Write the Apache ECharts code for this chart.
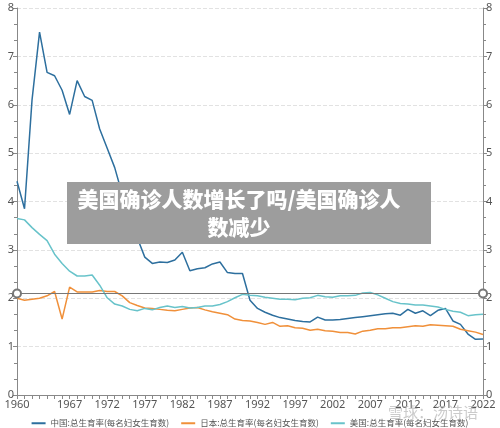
<!DOCTYPE html>
<html>
<head>
<meta charset="utf-8">
<script src="https://cdn.jsdelivr.net/npm/echarts@6/dist/echarts.min.js"></script>
<style>
html, body { margin: 0; padding: 0; background: #fff; }
#chart { width: 500px; height: 428px; }
</style>
</head>
<body>
<div id="chart"></div>
<script>
const years = []
for (let y = 1960; y <= 2022; y++) years.push(String(y))

const labelYears = ['1960', '1967', '1972', '1977', '1982', '1987', '1992', '1997', '2002', '2007', '2012', '2017', '2022']

const chinaTfr = [
    4.42, 3.85, 6.1, 7.5, 6.67, 6.6, 6.3, 5.8, 6.5, 6.17,
    6.09, 5.5, 5.1, 4.7, 4.15, 3.57, 3.25, 2.85, 2.72, 2.75,
    2.74, 2.79, 2.95, 2.57, 2.61, 2.63, 2.71, 2.75, 2.53, 2.51,
    2.51, 1.96, 1.79, 1.71, 1.65, 1.6, 1.57, 1.54, 1.52, 1.51,
    1.61, 1.55, 1.55, 1.56, 1.58, 1.6, 1.62, 1.64, 1.66, 1.68,
    1.69, 1.65, 1.77, 1.69, 1.74, 1.64, 1.75, 1.79, 1.53, 1.46,
    1.26, 1.15, 1.16,
]

const japanTfr = [
    2.0, 1.96, 1.98, 2.0, 2.05, 2.14, 1.57, 2.23, 2.13, 2.13,
    2.13, 2.16, 2.14, 2.14, 2.05, 1.91, 1.85, 1.8, 1.79, 1.77,
    1.75, 1.74, 1.77, 1.8, 1.81, 1.76, 1.72, 1.69, 1.66, 1.57,
    1.54, 1.53, 1.5, 1.46, 1.5, 1.42, 1.43, 1.39, 1.38, 1.34,
    1.36, 1.33, 1.32, 1.29, 1.29, 1.26, 1.32, 1.34, 1.37, 1.37,
    1.39, 1.39, 1.41, 1.43, 1.42, 1.45, 1.44, 1.43, 1.42, 1.36,
    1.33, 1.3, 1.25,
]

const usTfr = [
    3.65, 3.62, 3.46, 3.32, 3.19, 2.91, 2.72, 2.56, 2.46, 2.46,
    2.48, 2.27, 2.01, 1.88, 1.84, 1.77, 1.74, 1.79, 1.76, 1.81,
    1.84, 1.81, 1.83, 1.8, 1.81, 1.84, 1.84, 1.87, 1.93, 2.01,
    2.08, 2.06, 2.05, 2.02, 2.0, 1.98, 1.98, 1.97, 2.0, 2.01,
    2.06, 2.03, 2.02, 2.05, 2.05, 2.06, 2.11, 2.12, 2.07, 2.0,
    1.93, 1.89, 1.88, 1.86, 1.86, 1.84, 1.82, 1.77, 1.73, 1.71,
    1.64, 1.66, 1.67,
]

const replacementLevel = 2.1

const seriesNames = ['中国:总生育率(每名妇女生育数)', '日本:总生育率(每名妇女生育数)', '美国:总生育率(每名妇女生育数)']
const seriesColors = ['#2d6f9e', '#f0903a', '#68c3ca']

const chart = echarts.init(document.getElementById('chart'))

const yAxisBase = {
    type: 'value',
    min: 0,
    max: 8,
    interval: 1,
    axisLine: { show: true, lineStyle: { color: '#888' } },
    axisTick: { show: true, length: 4, lineStyle: { color: '#888' } },
    minorTick: { show: true, splitNumber: 3, length: 3, lineStyle: { color: '#888' } },
    axisLabel: { color: '#555', fontSize: 11, margin: 3, fontFamily: 'Noto Sans' },
}

const makeLine = (idx, data, extra) => Object.assign({
    name: seriesNames[idx],
    type: 'line',
    data: data,
    symbol: 'none',
    smooth: false,
    lineStyle: { width: 1.5, color: seriesColors[idx] },
    itemStyle: { color: seriesColors[idx] },
}, extra || {})

chart.setOption({
    animation: false,
    grid: { left: 17, right: 17, top: 8, bottom: 33, containLabel: false },
    legend: {
        top: 414,
        left: 'center',
        width: 480,
        icon: 'rect',
        itemWidth: 14,
        itemHeight: 2,
        itemGap: 12,
        textStyle: { color: '#555', fontSize: 8.5, fontFamily: 'Noto Sans CJK SC' },
        data: seriesNames,
    },
    xAxis: {
        type: 'category',
        data: years,
        boundaryGap: false,
        axisLine: { lineStyle: { color: '#888' } },
        axisTick: { show: true, interval: 0, length: 4, lineStyle: { color: '#888' } },
        axisLabel: {
            color: '#555',
            fontSize: 11,
            margin: 4,
            fontFamily: 'Noto Sans',
            interval: (i, v) => labelYears.includes(v),
        },
        splitLine: { show: false },
    },
    yAxis: [
        Object.assign({}, yAxisBase, {
            position: 'left',
            splitLine: { show: true, lineStyle: { color: '#e2e2e2', type: 'dashed' } },
        }),
        Object.assign({}, yAxisBase, {
            position: 'right',
            splitLine: { show: false },
        }),
    ],
    series: [
        makeLine(0, chinaTfr),
        makeLine(1, japanTfr, {
            markLine: {
                silent: true,
                symbol: ['emptyCircle', 'emptyCircle'],
                symbolSize: 8,
                label: { show: false },
                itemStyle: { color: '#666' },
                lineStyle: { color: '#777', type: 'solid', width: 1.2 },
                data: [{ yAxis: replacementLevel }],
            },
        }),
        makeLine(2, usTfr),
    ],
    graphic: [
        {
            type: 'rect',
            x: 67,
            y: 182,
            z: 100,
            shape: { width: 364, height: 62 },
            style: { fill: '#9d9d9d' },
        },
        {
            type: 'text',
            x: 239,
            y: 185,
            z: 101,
            style: {
                text: '美国确诊人数增长了吗/美国确诊人\n数减少',
                fill: '#fff',
                font: '900 21px "Noto Sans CJK SC"',
                lineHeight: 28,
                align: 'center',
                verticalAlign: 'top',
            },
        },
        {
            type: 'text',
            x: 388,
            y: 405,
            z: 101,
            style: {
                text: '雪球：汤诗语',
                fill: 'rgba(185,185,185,0.75)',
                font: '15px "Noto Sans CJK SC"',
            },
        },
    ],
})
</script>
</body>
</html>
